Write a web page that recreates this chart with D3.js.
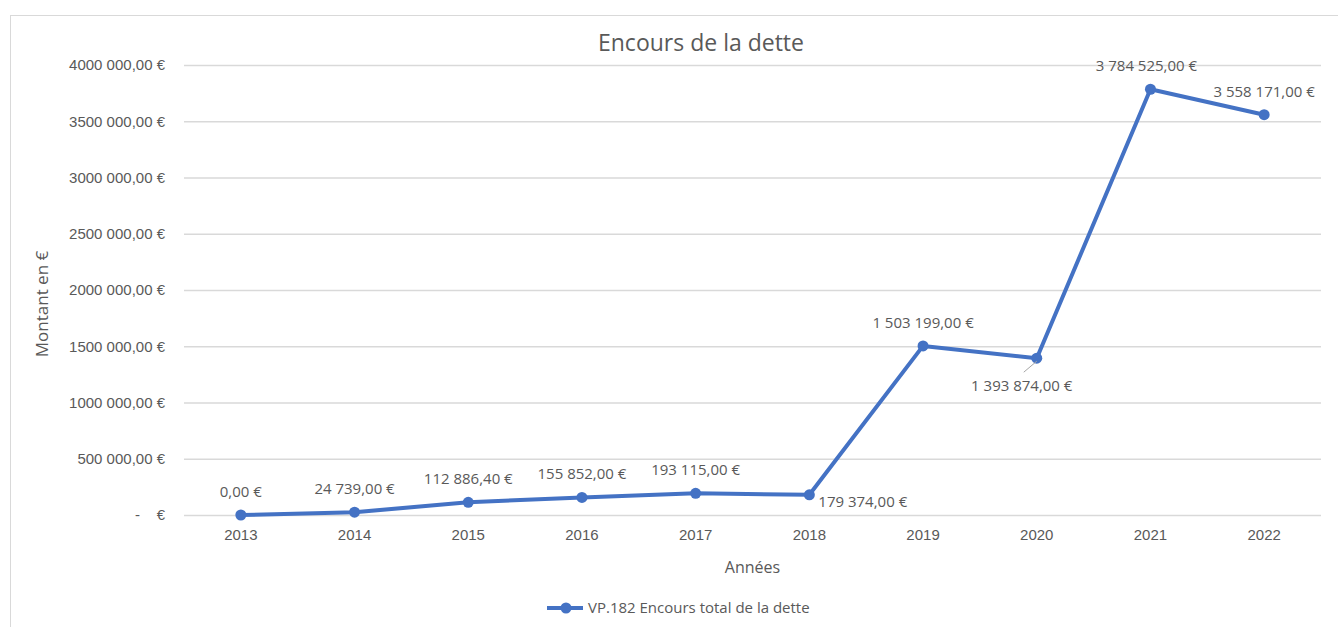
<!DOCTYPE html>
<html>
<head>
<meta charset="utf-8">
<script src="https://cdn.jsdelivr.net/npm/d3@7"></script>
<style>
  body { margin: 0; background: #fff; }
  svg { display: block; font-family: "Open Sans", Lato, sans-serif; }
</style>
</head>
<body>
<svg id="chart"></svg>
<script>
const years = ['2013', '2014', '2015', '2016', '2017', '2018', '2019', '2020', '2021', '2022'];
const encours = [0, 24739, 112886.40, 155852, 193115, 179374, 1503199, 1393874, 3784525, 3558171];
const yTicks = [0, 500000, 1000000, 1500000, 2000000, 2500000, 3000000, 3500000, 4000000];
const seriesName = 'VP.182 Encours total de la dette';

// where each data label sits relative to its point
const labelPlace = ['above', 'above', 'above', 'above', 'above', 'right', 'above', 'below', 'aboveLeft', 'above'];

const W = 1338, H = 627;
const margin = { top: 65, right: 17, bottom: 112, left: 184 };
const width = W - margin.left - margin.right;
const height = H - margin.top - margin.bottom;
const blue = '#4472c4';
const grey = '#595959';

const svg = d3.select('#chart').attr('width', W).attr('height', H);

// chart frame
svg.append('rect')
  .attr('x', 10.5).attr('y', 15.5)
  .attr('width', W + 10).attr('height', H + 10)
  .attr('fill', 'none').attr('stroke', '#d9d9d9');

const x = d3.scaleBand().domain(years).range([0, width]);
const y = d3.scaleLinear().domain([0, 4000000]).range([height, 0]);

const frNum = d3.formatLocale({ decimal: ',', thousands: '\u00a0', grouping: [3], currency: ['', ' €'] });
const fmt = frNum.format(',.2f');
const labelFmt = v => fmt(v) + '\u00a0€';
// axis labels drop the first group separator for millions (4000 000,00 €)
const tickFmt = v => {
  if (v === 0) return '-    €';
  const s = fmt(v);
  return (v >= 1000000 ? s.replace('\u00a0', '') : s) + '\u00a0€';
};

const g = svg.append('g').attr('transform', `translate(${margin.left},${margin.top})`);

// gridlines + y ticks
const yAxis = d3.axisLeft(y).tickValues(yTicks).tickSize(-width).tickPadding(19).tickFormat(tickFmt);
g.append('g').call(yAxis)
  .call(a => a.select('.domain').remove())
  .call(a => a.selectAll('line').attr('stroke', '#d9d9d9').attr('stroke-width', 1.3))
  .call(a => a.selectAll('text').attr('fill', grey).style('font-size', '15px').style('white-space', 'pre'));

// x ticks
const xAxis = d3.axisBottom(x).tickSize(0).tickPadding(14);
g.append('g').attr('transform', `translate(0,${height})`).call(xAxis)
  .call(a => a.select('.domain').remove())
  .call(a => a.selectAll('text').attr('fill', grey).style('font-size', '15px'));

const cx = (d, i) => x(years[i]) + x.bandwidth() / 2;

// line
const line = d3.line().x((d, i) => cx(d, i)).y(d => y(d));
g.append('path').datum(encours)
  .attr('d', line)
  .attr('fill', 'none').attr('stroke', blue)
  .attr('stroke-width', 4).attr('stroke-linejoin', 'round');

g.selectAll('circle.pt').data(encours).enter().append('circle')
  .attr('class', 'pt')
  .attr('cx', cx).attr('cy', d => y(d)).attr('r', 5.5)
  .attr('fill', blue);

// leader line for the label below 2020
encours.forEach((d, i) => {
  if (labelPlace[i] === 'below') {
    g.append('line')
      .attr('x1', cx(d, i)).attr('y1', y(d) + 3)
      .attr('x2', cx(d, i) - 13).attr('y2', y(d) + 14)
      .attr('stroke', '#a6a6a6').attr('stroke-width', 1);
  }
});

// data labels
g.selectAll('text.lbl').data(encours).enter().append('text')
  .attr('class', 'lbl')
  .attr('fill', grey).style('font-size', '15px')
  .attr('x', (d, i) => {
    const p = labelPlace[i];
    if (p === 'right') return cx(d, i) + 9;
    if (p === 'below') return cx(d, i) - 15;
    if (p === 'aboveLeft') return cx(d, i) - 4;
    return cx(d, i);
  })
  .attr('y', (d, i) => {
    const p = labelPlace[i];
    if (p === 'right') return y(d) + 12;
    if (p === 'below') return y(d) + 33;
    return y(d) - 18;
  })
  .attr('text-anchor', (d, i) => labelPlace[i] === 'right' ? 'start' : 'middle')
  .text(labelFmt);

// title
svg.append('text')
  .attr('x', 701).attr('y', 51)
  .attr('text-anchor', 'middle')
  .attr('fill', grey).style('font-size', '23px')
  .text('Encours de la dette');

// axis titles
svg.append('text')
  .attr('transform', `translate(48,${margin.top + height / 2 + 14}) rotate(-90)`)
  .attr('text-anchor', 'middle')
  .attr('fill', grey).style('font-size', '17px')
  .text('Montant en €');

svg.append('text')
  .attr('x', margin.left + width / 2).attr('y', 573)
  .attr('text-anchor', 'middle')
  .attr('fill', grey).style('font-size', '16px')
  .text('Années');

// legend
const lg = svg.append('g').attr('transform', 'translate(547,608)');
lg.append('line').attr('x1', 0).attr('x2', 36).attr('y1', 0).attr('y2', 0)
  .attr('stroke', blue).attr('stroke-width', 4);
lg.append('circle').attr('cx', 19).attr('cy', 0).attr('r', 5.5).attr('fill', blue);
lg.append('text').attr('x', 41).attr('y', 5)
  .attr('fill', grey).style('font-size', '15px')
  .text(seriesName);
</script>
</body>
</html>
